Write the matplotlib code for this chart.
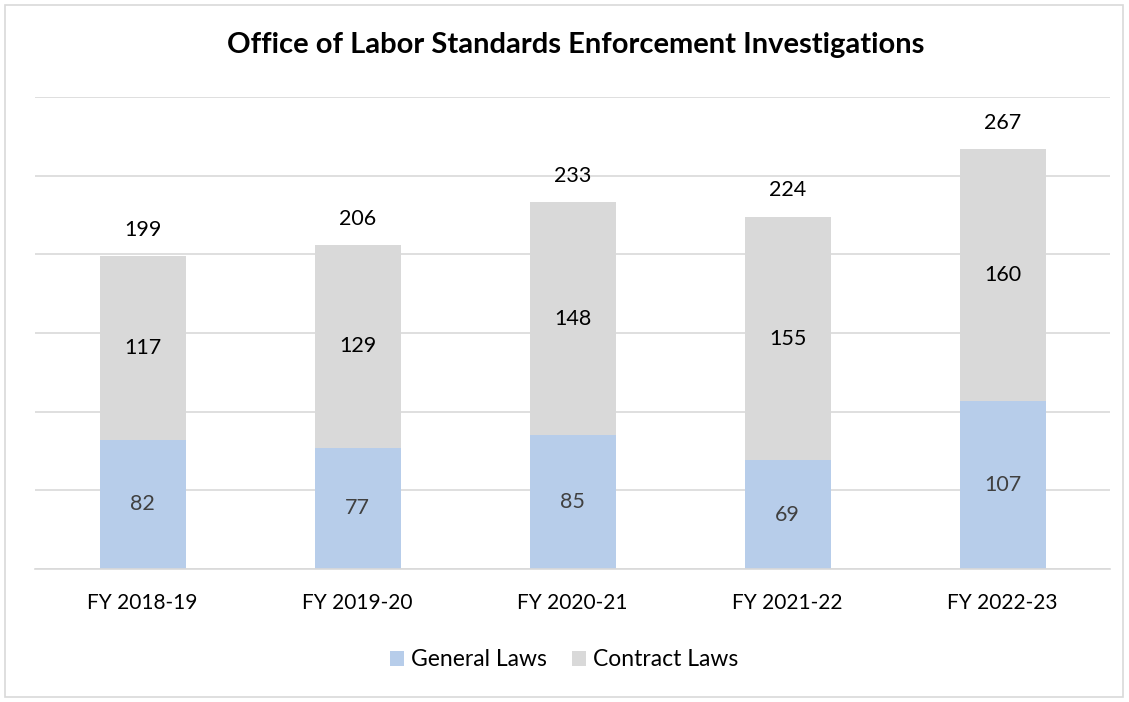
import matplotlib.pyplot as plt
from matplotlib.patches import Rectangle

years = ['FY 2018-19', 'FY 2019-20', 'FY 2020-21', 'FY 2021-22', 'FY 2022-23']
general = [82, 77, 85, 69, 107]
contract = [117, 129, 148, 155, 160]
totals = [199, 206, 233, 224, 267]

blue = '#B7CDEA'
gray = '#D9D9D9'

plt.rcParams['font.family'] = ['Lato', 'DejaVu Sans']

fig = plt.figure(figsize=(11.29, 7.02), dpi=100)
ax = fig.add_axes([35 / 1129, 1 - 569 / 702, 1075 / 1129, 472 / 702])

x = range(len(years))
ax.bar(x, general, width=0.4, color=blue, label='General Laws', zorder=2)
ax.bar(x, contract, width=0.4, bottom=general, color=gray, label='Contract Laws', zorder=2)

for i in x:
    ax.text(i, general[i] / 2, str(general[i]), ha='center', va='center',
            fontsize=15.5, color='#404040', zorder=3)
    ax.text(i, general[i] + contract[i] / 2, str(contract[i]), ha='center', va='center',
            fontsize=15.5, color='black', zorder=3)
    ax.annotate(str(totals[i]), (i, totals[i]), xytext=(0, 19), textcoords='offset points',
                ha='center', va='center', fontsize=15.5, color='black')

ax.set_xlim(-0.5, 4.5)
ax.set_ylim(0, 300)
ax.set_yticks(range(0, 301, 50))
ax.yaxis.grid(True, color='#D9D9D9', linewidth=1.2, zorder=0)
ax.set_axisbelow(True)
ax.tick_params(axis='y', left=False, labelleft=False)
ax.tick_params(axis='x', bottom=False, labelsize=15, pad=14)
ax.set_xticks(list(x))
ax.set_xticklabels(years)
for s in ['top', 'right', 'left']:
    ax.spines[s].set_visible(False)
ax.spines['bottom'].set_color('#D9D9D9')
ax.spines['bottom'].set_linewidth(1.2)

fig.text(576 / 1129, 1 - 45 / 702, 'Office of Labor Standards Enforcement Investigations',
         ha='center', va='center', fontsize=21, fontweight='bold')

leg = fig.legend(loc='center', bbox_to_anchor=(564 / 1129, 1 - 660 / 702), ncol=2, frameon=False,
                 fontsize=16.5, handlelength=0.6, handleheight=0.6, handletextpad=0.3, columnspacing=1.1)

fig.patches.append(Rectangle((5 / 1129, 5 / 702), 1118 / 1129, 692 / 702, transform=fig.transFigure,
                             fill=False, edgecolor='#D9D9D9', linewidth=1.2))

fig.savefig('out.png', dpi=100)
